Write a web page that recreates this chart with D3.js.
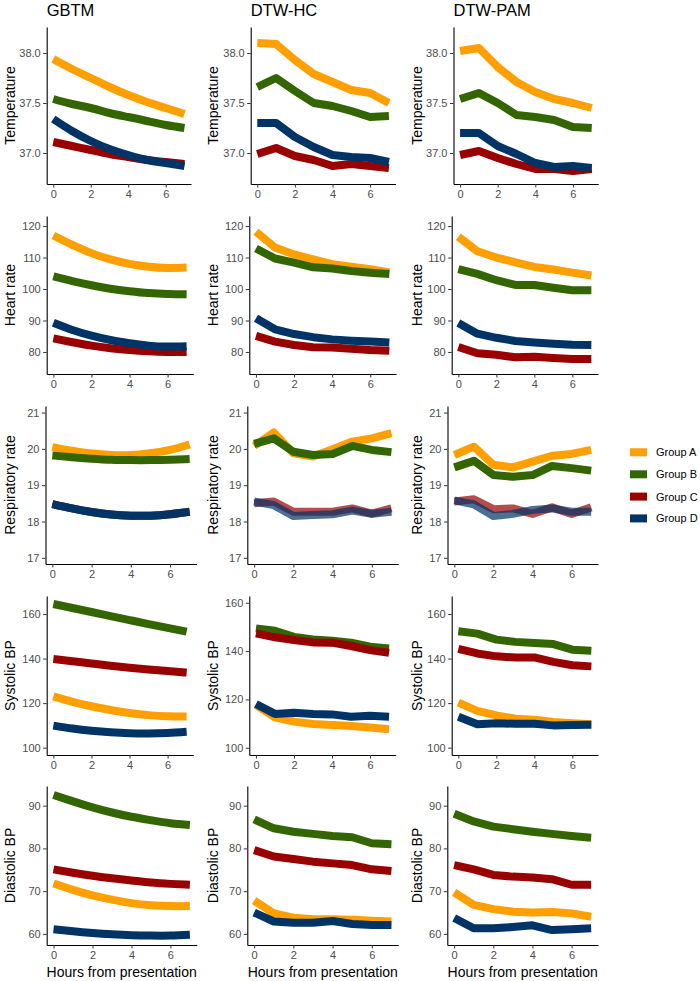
<!DOCTYPE html>
<html><head><meta charset="utf-8">
<script src="https://cdn.jsdelivr.net/npm/d3@7"></script>
<style>body{margin:0;background:#fff;} svg{display:block;font-family:"Liberation Sans",Arial,sans-serif;}</style>
</head><body><svg id="chart" width="700" height="981"></svg>
<script>
// ---------- data ----------
const hours = [0,1,2,3,4,5,6,7];
const groups = ["Group A","Group B","Group C","Group D"];
const groupColors = ["#FF9F00","#336600","#990000","#003366"];
const methods = ["GBTM","DTW-HC","DTW-PAM"];
const vitals = ["Temperature","Heart rate","Respiratory rate","Systolic BP","Diastolic BP"];
const xTicks = [0,2,4,6];
const xTitle = "Hours from presentation";
const yTicks = [[37.0,37.5,38.0],[80,90,100,110,120],[17,18,19,20,21],[100,120,140,160],[60,70,80,90]];
const yTickFormats = [".1f","d","d","d","d"];
// y limits per vital, per method
const yLimitsTemp = [[36.69,38.26],[36.69,38.26],[36.69,38.26]];
const yLimitsHR   = [[73.0,123.2],[73.0,123.2],[73.0,123.2]];
const yLimitsRR   = [[16.83,21.18],[16.83,21.18],[16.83,21.18]];
const yLimitsSBP  = [[96.7,168.1],[97.0,162.8],[96.7,168.1]];
const yLimitsDBP  = [[57.4,94.6],[57.4,94.6],[57.4,94.6]];

// series: [Group A, Group B, Group C, Group D], values at hours 0..7
const tempGBTM = [
  [37.94,37.84,37.75,37.66,37.58,37.51,37.45,37.39],
  [37.54,37.49,37.45,37.40,37.36,37.32,37.28,37.25],
  [37.11,37.07,37.03,36.99,36.96,36.93,36.91,36.89],
  [37.34,37.22,37.12,37.04,36.98,36.93,36.90,36.87]];
const tempDTWHC = [
  [38.10,38.09,37.93,37.79,37.71,37.63,37.60,37.50],
  [37.66,37.75,37.62,37.50,37.47,37.42,37.36,37.37],
  [36.99,37.05,36.97,36.93,36.87,36.89,36.87,36.85],
  [37.30,37.30,37.16,37.06,36.98,36.96,36.95,36.91]];
const tempDTWPAM = [
  [38.02,38.05,37.86,37.71,37.61,37.54,37.50,37.45],
  [37.54,37.60,37.50,37.38,37.36,37.33,37.26,37.25],
  [36.98,37.02,36.95,36.89,36.84,36.84,36.82,36.84],
  [37.20,37.20,37.07,36.99,36.90,36.86,36.87,36.85]];

const hrGBTM = [
  [117.0,114.0,111.4,109.4,108.0,107.1,106.7,106.8],
  [104.0,102.5,101.2,100.1,99.3,98.7,98.4,98.3],
  [84.3,83.1,82.0,81.2,80.6,80.2,80.0,80.0],
  [89.3,87.0,85.2,83.8,82.8,82.0,81.7,81.8]];
const hrDTWHC = [
  [118.2,113.2,111.0,109.4,107.9,107.1,106.3,105.3],
  [112.9,109.7,108.4,106.9,106.5,105.7,105.2,104.8],
  [85.1,83.3,82.2,81.5,81.4,81.0,80.6,80.4],
  [90.7,87.2,85.7,84.7,84.0,83.6,83.3,83.0]];
const hrDTWPAM = [
  [116.6,112.0,110.0,108.5,107.0,106.2,105.2,104.3],
  [106.3,104.8,102.8,101.3,101.3,100.4,99.6,99.6],
  [81.6,79.6,79.1,78.3,78.5,78.1,77.8,77.8],
  [89.2,85.8,84.5,83.5,83.0,82.6,82.3,82.2]];

const rrGBTM = [
  [20.05,19.95,19.87,19.83,19.83,19.88,19.97,20.12],
  [19.82,19.77,19.73,19.70,19.69,19.69,19.70,19.72],
  [18.48,18.36,18.26,18.19,18.16,18.16,18.20,18.27],
  [18.48,18.36,18.26,18.19,18.16,18.16,18.20,18.27]];
const rrDTWHC = [
  [20.08,20.45,19.88,19.79,19.99,20.20,20.29,20.43],
  [20.14,20.29,19.92,19.83,19.86,20.08,19.97,19.91],
  [18.50,18.55,18.27,18.27,18.27,18.36,18.22,18.36],
  [18.55,18.45,18.15,18.18,18.20,18.30,18.21,18.27]];
const rrDTWPAM = [
  [19.83,20.06,19.56,19.49,19.65,19.81,19.86,19.97],
  [19.49,19.67,19.28,19.23,19.28,19.53,19.47,19.40],
  [18.55,18.61,18.34,18.36,18.21,18.39,18.21,18.39],
  [18.58,18.47,18.15,18.21,18.32,18.36,18.27,18.27]];

const sbpGBTM = [
  [123.0,120.6,118.6,116.9,115.6,114.6,114.1,114.0],
  [164.5,162.7,160.9,159.1,157.3,155.5,153.8,152.1],
  [139.8,138.8,137.8,136.8,135.9,135.1,134.4,133.7],
  [109.9,108.6,107.6,106.9,106.5,106.4,106.6,107.1]];
const sbpDTWHC = [
  [117.7,112.6,110.8,109.8,109.4,109.0,108.4,107.7],
  [149.4,148.4,145.9,144.8,144.3,143.5,141.8,141.1],
  [147.3,145.7,144.6,143.6,143.5,142.1,140.4,139.3],
  [118.1,114.0,114.5,114.0,113.8,112.8,113.2,112.8]];
const sbpDTWPAM = [
  [120.2,116.5,114.5,113.0,112.5,111.5,111.0,110.5],
  [152.3,151.2,148.5,147.5,147.0,146.5,144.0,143.5],
  [144.4,142.3,141.0,140.5,140.5,138.5,137.0,136.5],
  [113.9,110.5,111.0,110.7,110.7,110.0,110.2,110.3]];

const dbpGBTM = [
  [71.8,70.3,69.0,68.0,67.2,66.7,66.5,66.5],
  [92.5,91.0,89.6,88.4,87.4,86.6,85.9,85.5],
  [75.1,74.3,73.6,73.0,72.5,72.0,71.7,71.5],
  [61.1,60.6,60.2,59.9,59.7,59.6,59.6,59.8]];
const dbpDTWHC = [
  [67.8,64.8,63.8,63.4,63.4,63.3,63.1,62.9],
  [86.8,84.7,83.9,83.4,82.9,82.6,81.2,81.0],
  [79.6,78.1,77.5,76.9,76.5,76.1,75.1,74.7],
  [65.0,62.9,62.6,62.6,63.0,62.3,62.1,62.1]];
const dbpDTWPAM = [
  [69.7,66.8,65.8,65.2,65.0,65.1,64.8,64.0],
  [88.1,86.3,85.1,84.5,83.9,83.4,82.9,82.5],
  [76.1,75.1,73.8,73.4,73.2,72.8,71.5,71.5],
  [63.7,61.3,61.3,61.6,62.0,60.9,61.1,61.3]];

const panelData = [
  [tempGBTM, tempDTWHC, tempDTWPAM],
  [hrGBTM, hrDTWHC, hrDTWPAM],
  [rrGBTM, rrDTWHC, rrDTWPAM],
  [sbpGBTM, sbpDTWHC, sbpDTWPAM],
  [dbpGBTM, dbpDTWHC, dbpDTWPAM]];
const yLimits = [yLimitsTemp, yLimitsHR, yLimitsRR, yLimitsSBP, yLimitsDBP];
// panels where groups C and D are drawn semi-transparent
const fadedPanels = [[2,1],[2,2]];
const fadedGroups = [2,3];

// ---------- layout ----------
const rowTop = [27, 216, 406, 596, 786];
const rowBottom = [184, 374, 564, 755, 945];
const colLeft = [[46.7,250.7,453.5],[46.7,249.3,451.7],[45.5,247.3,447.5],[46.7,249.3,451.7],[46.7,247.3,447.3]];
const colRight = [[191,395.5,598.3],[193.3,396,598],[196.5,398.3,598],[193.3,395.7,598],[196.7,398.3,598]];
const yTitleX = [10, 213, 416.5];
const lineW = 8;

const svg = d3.select("#chart");
svg.append("rect").attr("width",700).attr("height",981).attr("fill","#fff");

// column titles
methods.forEach((m,c)=>{
  svg.append("text").attr("x", colLeft[0][c]).attr("y", 16)
    .attr("font-size","16.5px").attr("fill","#000").text(m);
});

vitals.forEach((v,r)=>{
  methods.forEach((m,c)=>{
    const x = d3.scaleLinear().domain([-0.35,7.35]).range([colLeft[r][c], colRight[r][c]]);
    const y = d3.scaleLinear().domain(yLimits[r][c]).range([rowBottom[r], rowTop[r]]);
    const g = svg.append("g");

    // lines
    const isGBTM = c === 0;
    const line = d3.line().x(d=>x(d[0])).y(d=>y(d[1]))
      .curve(isGBTM ? d3.curveNatural : d3.curveLinear);
    const faded = fadedPanels.some(p=>p[0]===r && p[1]===c);
    panelData[r][c].forEach((vals,gi)=>{
      const pts = hours.map((h,i)=>[h, vals[i]]);
      g.append("path").attr("d", line(pts))
        .attr("fill","none")
        .attr("stroke", groupColors[gi])
        .attr("stroke-width", lineW)
        .attr("stroke-linecap","butt")
        .attr("stroke-linejoin","round")
        .attr("stroke-opacity", faded && fadedGroups.includes(gi) ? 0.7 : 1);
    });

    // axes
    const ax = g.append("g").attr("transform",`translate(0,${rowBottom[r]})`)
      .call(d3.axisBottom(x).tickValues(xTicks).tickSizeInner(3.5).tickSizeOuter(0).tickPadding(2.5));
    const ay = g.append("g").attr("transform",`translate(${colLeft[r][c]},0)`)
      .call(d3.axisLeft(y).tickValues(yTicks[r]).tickFormat(d3.format(yTickFormats[r])).tickSizeInner(3.5).tickSizeOuter(0).tickPadding(2.5));
    [ax, ay].forEach(a=>{
      a.select(".domain").attr("stroke","#000").attr("stroke-width",1.1);
      a.selectAll(".tick line").attr("stroke","#333").attr("stroke-width",1);
      a.selectAll(".tick text").attr("fill","#4D4D4D").attr("font-size","11px")
        .attr("font-family",'"Liberation Sans",Arial,sans-serif');
    });

    // y title
    const cy = (rowTop[r]+rowBottom[r])/2;
    svg.append("text").attr("transform",`translate(${yTitleX[c]},${cy}) rotate(-90)`)
      .attr("text-anchor","middle").attr("dominant-baseline","central")
      .attr("font-size","14px").attr("fill","#000").text(v);

    // x title on last row
    if (r === vitals.length-1) {
      svg.append("text").attr("x",(colLeft[r][c]+colRight[r][c])/2).attr("y",977)
        .attr("text-anchor","middle").attr("font-size","14px").attr("fill","#000").text(xTitle);
    }
  });
});

// legend
const legendY = [452.3, 474.3, 496.6, 518.4];
const lg = svg.append("g");
groups.forEach((gname,i)=>{
  lg.append("line").attr("x1",630).attr("x2",647).attr("y1",legendY[i]).attr("y2",legendY[i])
    .attr("stroke",groupColors[i]).attr("stroke-width",lineW);
  lg.append("text").attr("x",656).attr("y",legendY[i]).attr("dominant-baseline","central")
    .attr("font-size","11px").attr("fill","#000").text(gname);
});
</script>
</body></html>
